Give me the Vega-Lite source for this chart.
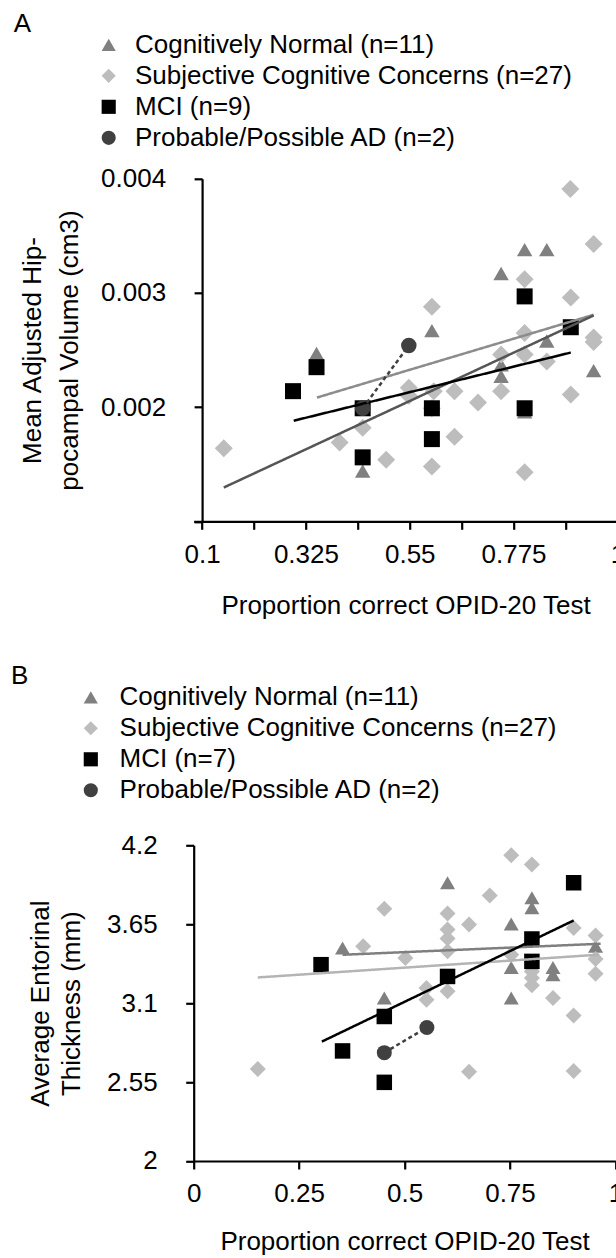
{
  "$schema": "https://vega.github.io/schema/vega-lite/v6.json",
  "background": "white",
  "padding": {"left": 10.7, "top": 31.8, "right": 0, "bottom": 0},
  "config": {
    "font": "Liberation Sans",
    "view": {"stroke": null},
    "axis": {
      "labelFont": "Liberation Sans", "labelFontSize": 26, "labelColor": "black",
      "titleFont": "Liberation Sans", "titleFontSize": 26, "titleFontWeight": "normal", "titleColor": "black",
      "domainColor": "black", "domainWidth": 2.2, "tickColor": "black", "tickWidth": 2.2, "tickSize": 8,
      "grid": false, "labelOverlap": false, "labelFlush": false
    },
    "legend": {
      "labelFont": "Liberation Sans", "labelFontSize": 26, "labelColor": "black", "labelLimit": 1000,
      "padding": 0, "rowPadding": 5, "symbolSize": 200, "symbolStrokeWidth": 0,
      "titleFont": "Liberation Sans", "titleFontSize": 26, "titleFontWeight": "normal", "titleColor": "black",
      "titleOrient": "left", "titleAnchor": "start", "titleAlign": "left", "titleLimit": 100, "titleBaseline": "alphabetic"
    }
  },
  "datasets": {
    "ptsA": [
      {"group": "Cognitively Normal (n=11)", "x": 0.799, "y": 0.00338},
      {"group": "Cognitively Normal (n=11)", "x": 0.847, "y": 0.00338},
      {"group": "Cognitively Normal (n=11)", "x": 0.748, "y": 0.00317},
      {"group": "Cognitively Normal (n=11)", "x": 0.598, "y": 0.00267},
      {"group": "Cognitively Normal (n=11)", "x": 0.348, "y": 0.00247},
      {"group": "Cognitively Normal (n=11)", "x": 0.847, "y": 0.00258},
      {"group": "Cognitively Normal (n=11)", "x": 0.748, "y": 0.00237},
      {"group": "Cognitively Normal (n=11)", "x": 0.748, "y": 0.00227},
      {"group": "Cognitively Normal (n=11)", "x": 0.9485, "y": 0.00232},
      {"group": "Cognitively Normal (n=11)", "x": 0.799, "y": 0.00196},
      {"group": "Cognitively Normal (n=11)", "x": 0.448, "y": 0.00144},
      {"group": "Subjective Cognitive Concerns (n=27)", "x": 0.898, "y": 0.00391},
      {"group": "Subjective Cognitive Concerns (n=27)", "x": 0.9485, "y": 0.00343},
      {"group": "Subjective Cognitive Concerns (n=27)", "x": 0.799, "y": 0.00312},
      {"group": "Subjective Cognitive Concerns (n=27)", "x": 0.899, "y": 0.00296},
      {"group": "Subjective Cognitive Concerns (n=27)", "x": 0.598, "y": 0.00288},
      {"group": "Subjective Cognitive Concerns (n=27)", "x": 0.799, "y": 0.00265},
      {"group": "Subjective Cognitive Concerns (n=27)", "x": 0.9485, "y": 0.00261},
      {"group": "Subjective Cognitive Concerns (n=27)", "x": 0.9485, "y": 0.00257},
      {"group": "Subjective Cognitive Concerns (n=27)", "x": 0.748, "y": 0.00246},
      {"group": "Subjective Cognitive Concerns (n=27)", "x": 0.799, "y": 0.00246},
      {"group": "Subjective Cognitive Concerns (n=27)", "x": 0.847, "y": 0.0024},
      {"group": "Subjective Cognitive Concerns (n=27)", "x": 0.548, "y": 0.00217},
      {"group": "Subjective Cognitive Concerns (n=27)", "x": 0.548, "y": 0.00210},
      {"group": "Subjective Cognitive Concerns (n=27)", "x": 0.602, "y": 0.00214},
      {"group": "Subjective Cognitive Concerns (n=27)", "x": 0.647, "y": 0.00214},
      {"group": "Subjective Cognitive Concerns (n=27)", "x": 0.748, "y": 0.00214},
      {"group": "Subjective Cognitive Concerns (n=27)", "x": 0.698, "y": 0.00204},
      {"group": "Subjective Cognitive Concerns (n=27)", "x": 0.899, "y": 0.00211},
      {"group": "Subjective Cognitive Concerns (n=27)", "x": 0.598, "y": 0.00199},
      {"group": "Subjective Cognitive Concerns (n=27)", "x": 0.448, "y": 0.00182},
      {"group": "Subjective Cognitive Concerns (n=27)", "x": 0.398, "y": 0.00169},
      {"group": "Subjective Cognitive Concerns (n=27)", "x": 0.647, "y": 0.00174},
      {"group": "Subjective Cognitive Concerns (n=27)", "x": 0.147, "y": 0.00164},
      {"group": "Subjective Cognitive Concerns (n=27)", "x": 0.499, "y": 0.00154},
      {"group": "Subjective Cognitive Concerns (n=27)", "x": 0.598, "y": 0.00148},
      {"group": "Subjective Cognitive Concerns (n=27)", "x": 0.799, "y": 0.00143},
      {"group": "MCI (n=9)", "x": 0.799, "y": 0.00297},
      {"group": "MCI (n=9)", "x": 0.899, "y": 0.0027},
      {"group": "MCI (n=9)", "x": 0.348, "y": 0.00235},
      {"group": "MCI (n=9)", "x": 0.297, "y": 0.00214},
      {"group": "MCI (n=9)", "x": 0.448, "y": 0.00199},
      {"group": "MCI (n=9)", "x": 0.598, "y": 0.00199},
      {"group": "MCI (n=9)", "x": 0.799, "y": 0.00199},
      {"group": "MCI (n=9)", "x": 0.598, "y": 0.00172},
      {"group": "MCI (n=9)", "x": 0.448, "y": 0.00156},
      {"group": "Probable/Possible AD (n=2)", "x": 0.448, "y": 0.00199},
      {"group": "Probable/Possible AD (n=2)", "x": 0.548, "y": 0.00254}
    ],
    "lnsA": [
      {"line": "CN", "x": 0.349, "y": 0.002084},
      {"line": "CN", "x": 0.9485, "y": 0.002809},
      {"line": "SCC", "x": 0.147, "y": 0.001296},
      {"line": "SCC", "x": 0.9485, "y": 0.002803},
      {"line": "MCI", "x": 0.2986, "y": 0.001881},
      {"line": "MCI", "x": 0.899, "y": 0.002478},
      {"line": "AD", "x": 0.448, "y": 0.00199},
      {"line": "AD", "x": 0.548, "y": 0.00254}
    ],
    "ptsB": [
      {"group": "Cognitively Normal (n=11)", "x": 0.602, "y": 3.939},
      {"group": "Cognitively Normal (n=11)", "x": 0.802, "y": 3.834},
      {"group": "Cognitively Normal (n=11)", "x": 0.802, "y": 3.764},
      {"group": "Cognitively Normal (n=11)", "x": 0.753, "y": 3.652},
      {"group": "Cognitively Normal (n=11)", "x": 0.353, "y": 3.485},
      {"group": "Cognitively Normal (n=11)", "x": 0.953, "y": 3.496},
      {"group": "Cognitively Normal (n=11)", "x": 0.753, "y": 3.349},
      {"group": "Cognitively Normal (n=11)", "x": 0.852, "y": 3.349},
      {"group": "Cognitively Normal (n=11)", "x": 0.852, "y": 3.298},
      {"group": "Cognitively Normal (n=11)", "x": 0.452, "y": 3.135},
      {"group": "Cognitively Normal (n=11)", "x": 0.753, "y": 3.135},
      {"group": "Subjective Cognitive Concerns (n=27)", "x": 0.753, "y": 4.13},
      {"group": "Subjective Cognitive Concerns (n=27)", "x": 0.802, "y": 4.067},
      {"group": "Subjective Cognitive Concerns (n=27)", "x": 0.452, "y": 3.757},
      {"group": "Subjective Cognitive Concerns (n=27)", "x": 0.602, "y": 3.725},
      {"group": "Subjective Cognitive Concerns (n=27)", "x": 0.702, "y": 3.85},
      {"group": "Subjective Cognitive Concerns (n=27)", "x": 0.653, "y": 3.648},
      {"group": "Subjective Cognitive Concerns (n=27)", "x": 0.602, "y": 3.613},
      {"group": "Subjective Cognitive Concerns (n=27)", "x": 0.602, "y": 3.55},
      {"group": "Subjective Cognitive Concerns (n=27)", "x": 0.602, "y": 3.461},
      {"group": "Subjective Cognitive Concerns (n=27)", "x": 0.402, "y": 3.496},
      {"group": "Subjective Cognitive Concerns (n=27)", "x": 0.502, "y": 3.415},
      {"group": "Subjective Cognitive Concerns (n=27)", "x": 0.901, "y": 3.624},
      {"group": "Subjective Cognitive Concerns (n=27)", "x": 0.953, "y": 3.571},
      {"group": "Subjective Cognitive Concerns (n=27)", "x": 0.953, "y": 3.408},
      {"group": "Subjective Cognitive Concerns (n=27)", "x": 0.953, "y": 3.305},
      {"group": "Subjective Cognitive Concerns (n=27)", "x": 0.753, "y": 3.438},
      {"group": "Subjective Cognitive Concerns (n=27)", "x": 0.802, "y": 3.321},
      {"group": "Subjective Cognitive Concerns (n=27)", "x": 0.802, "y": 3.275},
      {"group": "Subjective Cognitive Concerns (n=27)", "x": 0.802, "y": 3.224},
      {"group": "Subjective Cognitive Concerns (n=27)", "x": 0.552, "y": 3.205},
      {"group": "Subjective Cognitive Concerns (n=27)", "x": 0.552, "y": 3.123},
      {"group": "Subjective Cognitive Concerns (n=27)", "x": 0.602, "y": 3.182},
      {"group": "Subjective Cognitive Concerns (n=27)", "x": 0.852, "y": 3.135},
      {"group": "Subjective Cognitive Concerns (n=27)", "x": 0.901, "y": 3.014},
      {"group": "Subjective Cognitive Concerns (n=27)", "x": 0.152, "y": 2.641},
      {"group": "Subjective Cognitive Concerns (n=27)", "x": 0.653, "y": 2.622},
      {"group": "Subjective Cognitive Concerns (n=27)", "x": 0.901, "y": 2.627},
      {"group": "MCI (n=7)", "x": 0.901, "y": 3.939},
      {"group": "MCI (n=7)", "x": 0.802, "y": 3.547},
      {"group": "MCI (n=7)", "x": 0.802, "y": 3.391},
      {"group": "MCI (n=7)", "x": 0.302, "y": 3.368},
      {"group": "MCI (n=7)", "x": 0.602, "y": 3.286},
      {"group": "MCI (n=7)", "x": 0.452, "y": 3.007},
      {"group": "MCI (n=7)", "x": 0.353, "y": 2.767},
      {"group": "MCI (n=7)", "x": 0.452, "y": 2.548},
      {"group": "Probable/Possible AD (n=2)", "x": 0.452, "y": 2.755},
      {"group": "Probable/Possible AD (n=2)", "x": 0.553, "y": 2.93}
    ],
    "lnsB": [
      {"line": "CN", "x": 0.353, "y": 3.437},
      {"line": "CN", "x": 0.965, "y": 3.514},
      {"line": "SCC", "x": 0.152, "y": 3.279},
      {"line": "SCC", "x": 0.962, "y": 3.438},
      {"line": "MCI", "x": 0.304, "y": 2.832},
      {"line": "MCI", "x": 0.901, "y": 3.676},
      {"line": "AD", "x": 0.452, "y": 2.755},
      {"line": "AD", "x": 0.553, "y": 2.93}
    ]
  },
  "spacing": 65.5,
  "resolve": {
    "scale": {"fill": "independent", "shape": "independent", "stroke": "independent", "strokeDash": "independent", "x": "independent", "y": "independent"},
    "legend": {"fill": "independent", "shape": "independent"}
  },
  "vconcat": [
    {
      "width": 423.7,
      "height": 342.5,
      "encoding": {
        "x": {"field": "x", "type": "quantitative",
          "scale": {"domain": [0.0818, 1], "nice": false, "zero": false},
          "axis": {"values": [0.1, 0.2125, 0.325, 0.4375, 0.55, 0.6625, 0.775, 0.8875, 1], "format": ".4~g",
            "labelExpr": "abs(datum.value * 40 - round(datum.value * 40)) < 0.01 ? datum.label : ''",
            "labelPadding": 12, "titlePadding": 25, "title": "Proportion correct OPID-20 Test"}},
        "y": {"field": "y", "type": "quantitative",
          "scale": {"domain": [0.001, 0.004], "nice": false, "zero": false},
          "axis": {"values": [0.001, 0.002, 0.003, 0.004], "format": ".3f", "offset": -8.4,
            "labelExpr": "datum.value < 0.0015 ? '' : datum.label",
            "labelPadding": 28.5, "titlePadding": 18, "titleLineHeight": 36.7,
            "title": ["Mean Adjusted Hip-", "pocampal Volume (cm3)"]}}
      },
      "layer": [
        {
          "data": {"name": "ptsA"},
          "transform": [{"filter": "datum.group === 'Cognitively Normal (n=11)'"}],
          "mark": {"type": "point", "filled": true, "size": 240, "opacity": 1, "strokeWidth": 0},
          "encoding": {
            "fill": {"field": "group", "type": "nominal", "scale": {"domain": ["Cognitively Normal (n=11)", "Subjective Cognitive Concerns (n=27)", "MCI (n=9)", "Probable/Possible AD (n=2)"], "range": ["#808080", "#bdbdbd", "#000000", "#404040"]},
              "legend": {"title": "A", "orient": "none", "legendX": -180, "legendY": -147, "labelOffset": 13.3, "titlePadding": 64}},
            "shape": {"field": "group", "type": "nominal", "scale": {"domain": ["Cognitively Normal (n=11)", "Subjective Cognitive Concerns (n=27)", "MCI (n=9)", "Probable/Possible AD (n=2)"], "range": ["triangle-up", "diamond", "square", "circle"]},
              "legend": {"title": "A", "orient": "none", "legendX": -180, "legendY": -147, "labelOffset": 13.3, "titlePadding": 64}}
          }
        },
        {
          "data": {"name": "ptsA"},
          "transform": [{"filter": "datum.group === 'Subjective Cognitive Concerns (n=27)'"}],
          "mark": {"type": "point", "filled": true, "size": 324, "opacity": 1, "strokeWidth": 0},
          "encoding": {
            "fill": {"field": "group", "type": "nominal", "scale": {"domain": ["Cognitively Normal (n=11)", "Subjective Cognitive Concerns (n=27)", "MCI (n=9)", "Probable/Possible AD (n=2)"], "range": ["#808080", "#bdbdbd", "#000000", "#404040"]},
              "legend": {"title": "A", "orient": "none", "legendX": -180, "legendY": -147, "labelOffset": 13.3, "titlePadding": 64}},
            "shape": {"field": "group", "type": "nominal", "scale": {"domain": ["Cognitively Normal (n=11)", "Subjective Cognitive Concerns (n=27)", "MCI (n=9)", "Probable/Possible AD (n=2)"], "range": ["triangle-up", "diamond", "square", "circle"]},
              "legend": {"title": "A", "orient": "none", "legendX": -180, "legendY": -147, "labelOffset": 13.3, "titlePadding": 64}}
          }
        },
        {
          "data": {"name": "ptsA"},
          "transform": [{"filter": "datum.group === 'MCI (n=9)'"}],
          "mark": {"type": "point", "filled": true, "size": 256, "opacity": 1, "strokeWidth": 0},
          "encoding": {
            "fill": {"field": "group", "type": "nominal", "scale": {"domain": ["Cognitively Normal (n=11)", "Subjective Cognitive Concerns (n=27)", "MCI (n=9)", "Probable/Possible AD (n=2)"], "range": ["#808080", "#bdbdbd", "#000000", "#404040"]},
              "legend": {"title": "A", "orient": "none", "legendX": -180, "legendY": -147, "labelOffset": 13.3, "titlePadding": 64}},
            "shape": {"field": "group", "type": "nominal", "scale": {"domain": ["Cognitively Normal (n=11)", "Subjective Cognitive Concerns (n=27)", "MCI (n=9)", "Probable/Possible AD (n=2)"], "range": ["triangle-up", "diamond", "square", "circle"]},
              "legend": {"title": "A", "orient": "none", "legendX": -180, "legendY": -147, "labelOffset": 13.3, "titlePadding": 64}}
          }
        },
        {
          "data": {"name": "ptsA"},
          "transform": [{"filter": "datum.group === 'Probable/Possible AD (n=2)'"}],
          "mark": {"type": "point", "filled": true, "size": 240, "opacity": 1, "strokeWidth": 0},
          "encoding": {
            "fill": {"field": "group", "type": "nominal", "scale": {"domain": ["Cognitively Normal (n=11)", "Subjective Cognitive Concerns (n=27)", "MCI (n=9)", "Probable/Possible AD (n=2)"], "range": ["#808080", "#bdbdbd", "#000000", "#404040"]},
              "legend": {"title": "A", "orient": "none", "legendX": -180, "legendY": -147, "labelOffset": 13.3, "titlePadding": 64}},
            "shape": {"field": "group", "type": "nominal", "scale": {"domain": ["Cognitively Normal (n=11)", "Subjective Cognitive Concerns (n=27)", "MCI (n=9)", "Probable/Possible AD (n=2)"], "range": ["triangle-up", "diamond", "square", "circle"]},
              "legend": {"title": "A", "orient": "none", "legendX": -180, "legendY": -147, "labelOffset": 13.3, "titlePadding": 64}}
          }
        },
        {
          "data": {"name": "lnsA"},
          "mark": {"type": "line", "strokeWidth": 2.5},
          "encoding": {
            "stroke": {"field": "line", "type": "nominal", "scale": {"domain": ["CN", "SCC", "MCI", "AD"], "range": ["#8c8c8c", "#555555", "#000000", "#404040"]}, "legend": null},
            "strokeDash": {"field": "line", "type": "nominal", "scale": {"domain": ["CN", "SCC", "MCI", "AD"], "range": [[1, 0], [1, 0], [1, 0], [4, 3]]}, "legend": null}
          }
        }
      ]
    },
    {
      "width": 421.7,
      "height": 315.7,
      "encoding": {
        "x": {"field": "x", "type": "quantitative",
          "scale": {"domain": [0, 1], "nice": false, "zero": false},
          "axis": {"values": [0, 0.25, 0.5, 0.75, 1], "format": ".2~g",
            "labelPadding": 12, "titlePadding": 22, "title": "Proportion correct OPID-20 Test"}},
        "y": {"field": "y", "type": "quantitative",
          "scale": {"domain": [2, 4.2], "nice": false, "zero": false},
          "axis": {"values": [2, 2.55, 3.1, 3.65, 4.2], "format": ".3~g",
            "labelPadding": 28.5, "titlePadding": 22, "titleLineHeight": 31.3,
            "title": ["Average Entorinal", "Thickness (mm)"]}}
      },
      "layer": [
        {
          "data": {"name": "ptsB"},
          "transform": [{"filter": "datum.group === 'Cognitively Normal (n=11)'"}],
          "mark": {"type": "point", "filled": true, "size": 225, "opacity": 1, "strokeWidth": 0},
          "encoding": {
            "fill": {"field": "group", "type": "nominal", "scale": {"domain": ["Cognitively Normal (n=11)", "Subjective Cognitive Concerns (n=27)", "MCI (n=7)", "Probable/Possible AD (n=2)"], "range": ["#808080", "#bdbdbd", "#000000", "#404040"]},
              "legend": {"title": "B", "orient": "none", "legendX": -182.6, "legendY": -161, "labelOffset": 15.8, "titlePadding": 48.7}},
            "shape": {"field": "group", "type": "nominal", "scale": {"domain": ["Cognitively Normal (n=11)", "Subjective Cognitive Concerns (n=27)", "MCI (n=7)", "Probable/Possible AD (n=2)"], "range": ["triangle-up", "diamond", "square", "circle"]},
              "legend": {"title": "B", "orient": "none", "legendX": -182.6, "legendY": -161, "labelOffset": 15.8, "titlePadding": 48.7}}
          }
        },
        {
          "data": {"name": "ptsB"},
          "transform": [{"filter": "datum.group === 'Subjective Cognitive Concerns (n=27)'"}],
          "mark": {"type": "point", "filled": true, "size": 256, "opacity": 1, "strokeWidth": 0},
          "encoding": {
            "fill": {"field": "group", "type": "nominal", "scale": {"domain": ["Cognitively Normal (n=11)", "Subjective Cognitive Concerns (n=27)", "MCI (n=7)", "Probable/Possible AD (n=2)"], "range": ["#808080", "#bdbdbd", "#000000", "#404040"]},
              "legend": {"title": "B", "orient": "none", "legendX": -182.6, "legendY": -161, "labelOffset": 15.8, "titlePadding": 48.7}},
            "shape": {"field": "group", "type": "nominal", "scale": {"domain": ["Cognitively Normal (n=11)", "Subjective Cognitive Concerns (n=27)", "MCI (n=7)", "Probable/Possible AD (n=2)"], "range": ["triangle-up", "diamond", "square", "circle"]},
              "legend": {"title": "B", "orient": "none", "legendX": -182.6, "legendY": -161, "labelOffset": 15.8, "titlePadding": 48.7}}
          }
        },
        {
          "data": {"name": "ptsB"},
          "transform": [{"filter": "datum.group === 'MCI (n=7)'"}],
          "mark": {"type": "point", "filled": true, "size": 240, "opacity": 1, "strokeWidth": 0},
          "encoding": {
            "fill": {"field": "group", "type": "nominal", "scale": {"domain": ["Cognitively Normal (n=11)", "Subjective Cognitive Concerns (n=27)", "MCI (n=7)", "Probable/Possible AD (n=2)"], "range": ["#808080", "#bdbdbd", "#000000", "#404040"]},
              "legend": {"title": "B", "orient": "none", "legendX": -182.6, "legendY": -161, "labelOffset": 15.8, "titlePadding": 48.7}},
            "shape": {"field": "group", "type": "nominal", "scale": {"domain": ["Cognitively Normal (n=11)", "Subjective Cognitive Concerns (n=27)", "MCI (n=7)", "Probable/Possible AD (n=2)"], "range": ["triangle-up", "diamond", "square", "circle"]},
              "legend": {"title": "B", "orient": "none", "legendX": -182.6, "legendY": -161, "labelOffset": 15.8, "titlePadding": 48.7}}
          }
        },
        {
          "data": {"name": "ptsB"},
          "transform": [{"filter": "datum.group === 'Probable/Possible AD (n=2)'"}],
          "mark": {"type": "point", "filled": true, "size": 225, "opacity": 1, "strokeWidth": 0},
          "encoding": {
            "fill": {"field": "group", "type": "nominal", "scale": {"domain": ["Cognitively Normal (n=11)", "Subjective Cognitive Concerns (n=27)", "MCI (n=7)", "Probable/Possible AD (n=2)"], "range": ["#808080", "#bdbdbd", "#000000", "#404040"]},
              "legend": {"title": "B", "orient": "none", "legendX": -182.6, "legendY": -161, "labelOffset": 15.8, "titlePadding": 48.7}},
            "shape": {"field": "group", "type": "nominal", "scale": {"domain": ["Cognitively Normal (n=11)", "Subjective Cognitive Concerns (n=27)", "MCI (n=7)", "Probable/Possible AD (n=2)"], "range": ["triangle-up", "diamond", "square", "circle"]},
              "legend": {"title": "B", "orient": "none", "legendX": -182.6, "legendY": -161, "labelOffset": 15.8, "titlePadding": 48.7}}
          }
        },
        {
          "data": {"name": "lnsB"},
          "mark": {"type": "line", "strokeWidth": 2.5},
          "encoding": {
            "stroke": {"field": "line", "type": "nominal", "scale": {"domain": ["CN", "SCC", "MCI", "AD"], "range": ["#7f7f7f", "#b4b4b4", "#000000", "#404040"]}, "legend": null},
            "strokeDash": {"field": "line", "type": "nominal", "scale": {"domain": ["CN", "SCC", "MCI", "AD"], "range": [[1, 0], [1, 0], [1, 0], [4, 3]]}, "legend": null}
          }
        }
      ]
    }
  ]
}
